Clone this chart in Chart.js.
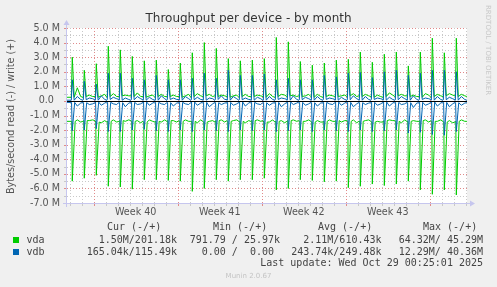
<!DOCTYPE html>
<html>
<head>
<meta charset="utf-8">
<script src="https://cdn.jsdelivr.net/npm/chart.js@4.4.1/dist/chart.umd.min.js"></script>
<style>
  html, body { margin: 0; background: #f0f0f0; }
  canvas { display: block; }
</style>
</head>
<body>
<canvas id="chart" width="497" height="287"></canvas>
<script>
// time axis is in days from the left edge of the graph
const spanDays = 33.33;
const firstMidnight = 0.225;
const firstMonday = 2.225;
const spikePhase = 0.44;

const weekLabels = ['Week 40', 'Week 41', 'Week 42', 'Week 43'];
const yTicks = [-7, -6, -5, -4, -3, -2, -1, 0, 1, 2, 3, 4, 5];

// daily values, MB/s (read is negative, write positive)
// peak = the daily burst, base = level around it, quiet = two readings later in the day
const vdaWritePeak = [3.0, 2.1, 2.55, 3.75, 3.5, 3.05, 2.75, 2.8, 2.15, 2.6, 3.3, 4.0, 3.6, 2.9, 2.75, 2.8, 2.9,
  4.35, 4.05, 2.7, 2.45, 2.6, 2.8, 2.85, 3.35, 2.65, 3.2, 3.35, 2.4, 3.35, 4.3, 3.3, 4.3];
const vdaWriteBase = [0.25, 0.3, 0.25, 0.3, 0.35, 0.3, 0.25, 0.3, 0.3, 0.25, 0.3, 0.35, 0.3, 0.25, 0.3, 0.3, 0.25,
  0.3, 0.35, 0.3, 0.25, 0.3, 0.3, 0.35, 0.3, 0.25, 0.3, 0.35, 0.3, 0.25, 0.3, 0.35, 0.3];
const vdaWriteQuiet = [
  0.9, 0.3,  0.4, 0.3,  0.35, 0.45, 0.5, 0.3,  0.4, 0.35, 0.55, 0.3,  0.35, 0.4,  0.45, 0.3,
  0.4, 0.3,  0.35, 0.45, 0.5, 0.35, 0.45, 0.3, 0.4, 0.35, 0.35, 0.4,  0.45, 0.3,  0.4, 0.35,
  0.5, 0.3,  0.45, 0.4,  0.4, 0.3,  0.35, 0.45, 0.45, 0.3, 0.4, 0.35, 0.35, 0.4,  0.5, 0.3,
  0.45, 0.35, 0.4, 0.3,  0.55, 0.4, 0.45, 0.35, 0.4, 0.3,  0.5, 0.4,  0.45, 0.35, 0.5, 0.4,
  0.45, 0.35];

const vdaReadPeak = [-5.5, -5.3, -5.1, -5.85, -5.9, -6.05, -5.4, -5.4, -5.45, -5.5, -6.2, -6.0, -5.4, -5.5, -5.4, -5.4, -5.3,
  -6.1, -6.0, -5.4, -5.45, -5.55, -5.5, -5.95, -5.85, -5.7, -5.8, -5.7, -5.5, -6.1, -6.4, -6.1, -6.45];
const vdaReadBase = [-1.4, -1.35, -1.45, -1.4, -1.35, -1.4, -1.45, -1.4, -1.35, -1.4, -1.4, -1.45, -1.35, -1.4, -1.4, -1.35, -1.45,
  -1.4, -1.35, -1.4, -1.45, -1.4, -1.35, -1.4, -1.4, -1.45, -1.35, -1.4, -1.4, -1.35, -1.4, -1.45, -1.4];
const vdaReadQuiet = [
  -1.3, -1.45, -1.35, -1.3,  -1.5, -1.35, -1.3, -1.45, -1.4, -1.3,  -1.35, -1.5, -1.3, -1.4,  -1.45, -1.3,
  -1.35, -1.45, -1.3, -1.4,  -1.5, -1.3,  -1.4, -1.35, -1.3, -1.45, -1.35, -1.3, -1.5, -1.35, -1.3, -1.4,
  -1.45, -1.3, -1.35, -1.5,  -1.3, -1.4,  -1.4, -1.3,  -1.35, -1.45, -1.3, -1.4, -1.45, -1.35, -1.3, -1.5,
  -1.35, -1.3, -1.4, -1.45,  -1.3, -1.35, -1.5, -1.3,  -1.35, -1.4,  -1.3, -1.45, -1.4, -1.3, -1.35, -1.5,
  -1.3, -1.4];

const vdbWritePeak = [1.45, 1.35, 1.15, 1.9, 1.9, 1.55, 1.45, 1.75, 1.45, 1.45, 1.55, 1.9, 1.55, 2.1, 1.75, 1.75, 1.85,
  1.45, 1.55, 1.45, 1.45, 1.75, 1.65, 1.9, 1.95, 1.6, 2.0, 2.1, 1.75, 1.9, 2.1, 2.1, 2.0];
const vdbWriteBase = [0.05, 0.08, 0.05, 0.1, 0.05, 0.08, 0.05, 0.05, 0.1, 0.05, 0.08, 0.05, 0.1, 0.05, 0.08, 0.05, 0.05,
  0.1, 0.05, 0.08, 0.05, 0.1, 0.05, 0.08, 0.05, 0.1, 0.05, 0.08, 0.05, 0.1, 0.05, 0.08, 0.05];
const vdbWriteQuiet = [
  0.3, 0.1,  0.2, 0.15, 0.35, 0.1,  0.25, 0.15, 0.2, 0.1,  0.3, 0.15, 0.25, 0.1,  0.35, 0.15,
  0.2, 0.1,  0.3, 0.15, 0.25, 0.1,  0.2, 0.15,  0.35, 0.1, 0.3, 0.15, 0.2, 0.1,   0.25, 0.15,
  0.3, 0.1,  0.2, 0.15, 0.35, 0.1,  0.25, 0.15, 0.3, 0.1,  0.2, 0.15, 0.25, 0.1,  0.35, 0.15,
  0.3, 0.1,  0.2, 0.15, 0.25, 0.1,  0.3, 0.15,  0.35, 0.1, 0.2, 0.15, 0.3, 0.1,   0.25, 0.15,
  0.3, 0.1];

const vdbReadPeak = [-2.05, -2.0, -1.9, -2.1, -2.1, -2.0, -1.95, -2.05, -2.1, -2.0, -2.1, -2.0, -2.05, -2.1, -2.0, -2.05, -2.0,
  -2.1, -2.05, -2.0, -2.1, -2.0, -2.05, -2.1, -2.0, -2.1, -2.05, -2.0, -2.2, -2.15, -2.3, -2.35, -2.1];
const vdbReadBase = [-0.1, -0.12, -0.08, -0.1, -0.12, -0.1, -0.08, -0.1, -0.12, -0.1, -0.08, -0.1, -0.12, -0.1, -0.08, -0.1, -0.12,
  -0.1, -0.08, -0.1, -0.12, -0.1, -0.08, -0.1, -0.12, -0.1, -0.08, -0.1, -0.12, -0.1, -0.08, -0.1, -0.12];
const vdbReadQuiet = [
  -0.35, -0.15, -0.25, -0.2, -0.3, -0.15, -0.2, -0.25, -0.4, -0.15, -0.25, -0.2, -0.3, -0.15, -0.2, -0.25,
  -0.35, -0.15, -0.2, -0.25, -0.3, -0.15, -0.4, -0.2, -0.25, -0.15, -0.3, -0.2,  -0.35, -0.15, -0.2, -0.25,
  -0.3, -0.15, -0.4, -0.2,  -0.25, -0.15, -0.3, -0.2, -0.35, -0.15, -0.2, -0.25, -0.3, -0.15, -0.4, -0.2,
  -0.25, -0.15, -0.3, -0.2, -0.35, -0.15, -0.25, -0.2, -0.45, -0.15, -0.3, -0.2, -0.35, -0.15, -0.4, -0.2,
  -0.3, -0.15];

const legendRows = [
  { name: 'vda', color: '#00cc00', cur: '1.50M/201.18k', min: '791.79 / 25.97k', avg: '2.11M/610.43k', max: '64.32M/ 45.29M' },
  { name: 'vdb', color: '#0066b3', cur: '165.04k/115.49k', min: '0.00 /  0.00', avg: '243.74k/249.48k', max: '12.29M/ 40.36M' }
];

function buildSeries(peak, base, quiet, fall, rise) {
  const pts = [{ x: 0, y: base[0] }];
  peak.forEach((p, k) => {
    const t = spikePhase + k;
    pts.push({ x: t - fall, y: base[k] }, { x: t, y: p }, { x: t + rise, y: base[k] },
      { x: t + 0.42, y: quiet[2 * k] }, { x: t + 0.7, y: quiet[2 * k + 1] }, { x: t + 0.88, y: base[k] });
  });
  return pts;
}

const sans = '"DejaVu Sans", sans-serif';
const mono = '"DejaVu Sans Mono", monospace';

function dotted(ctx, x1, y1, x2, y2, color) {
  ctx.save();
  ctx.strokeStyle = color;
  ctx.lineWidth = 1;
  ctx.setLineDash([1, 2]);
  ctx.beginPath();
  ctx.moveTo(x1, y1);
  ctx.lineTo(x2, y2);
  ctx.stroke();
  ctx.restore();
}

const munin = {
  id: 'munin',
  beforeDraw(chart) {
    const { ctx, chartArea: a } = chart;
    ctx.save();
    ctx.fillStyle = '#f0f0f0';
    ctx.fillRect(0, 0, chart.width, chart.height);
    ctx.fillStyle = '#ffffff';
    ctx.fillRect(a.left, a.top, a.right - a.left, a.bottom - a.top);
    ctx.restore();
  },
  beforeDatasetsDraw(chart) {
    const { ctx, chartArea: a, scales: { x, y } } = chart;
    const minor = '#c8c8c8', major = '#e08a8a';
    ctx.save();
    // horizontal grid: minor every 0.5, major every 1
    for (let v = -7; v <= 5; v += 0.5) {
      const py = Math.round(y.getPixelForValue(v)) + 0.5;
      const isMajor = Number.isInteger(v);
      dotted(ctx, a.left, py, a.right, py, isMajor ? major : minor);
      ctx.strokeStyle = isMajor ? major : minor;
      ctx.beginPath(); ctx.moveTo(a.left - 3, py); ctx.lineTo(a.left, py); ctx.stroke();
    }
    // vertical grid: minor every day, major every week
    for (let d = firstMidnight; d <= spanDays; d += 1) {
      const px = Math.round(x.getPixelForValue(d)) + 0.5;
      const isMajor = Math.abs(((d - firstMonday) % 7 + 7) % 7) < 0.01;
      dotted(ctx, px, a.top, px, a.bottom, isMajor ? major : minor);
      ctx.strokeStyle = isMajor ? major : minor;
      ctx.beginPath(); ctx.moveTo(px, a.bottom); ctx.lineTo(px, a.bottom + 3); ctx.stroke();
    }
    ctx.restore();
  },
  afterDatasetsDraw(chart) {
    const { ctx, chartArea: a, scales: { y } } = chart;
    ctx.save();
    const zy = Math.round(y.getPixelForValue(0)) + 0.5;
    ctx.strokeStyle = '#000000';
    ctx.lineWidth = 1;
    ctx.beginPath(); ctx.moveTo(a.left, zy); ctx.lineTo(a.right, zy); ctx.stroke();
    // axes with arrows
    const axis = '#c6c6ee';
    ctx.strokeStyle = axis;
    ctx.fillStyle = axis;
    ctx.beginPath();
    ctx.moveTo(a.left - 0.5, a.bottom + 4); ctx.lineTo(a.left - 0.5, a.top - 4);
    ctx.moveTo(a.left - 4, a.bottom + 0.5); ctx.lineTo(a.right + 4, a.bottom + 0.5);
    ctx.stroke();
    ctx.beginPath();
    ctx.moveTo(a.left - 3.5, a.top - 3); ctx.lineTo(a.left - 0.5, a.top - 8); ctx.lineTo(a.left + 2.5, a.top - 3);
    ctx.closePath(); ctx.fill();
    ctx.beginPath();
    ctx.moveTo(a.right + 3, a.bottom - 2.5); ctx.lineTo(a.right + 8, a.bottom + 0.5); ctx.lineTo(a.right + 3, a.bottom + 3.5);
    ctx.closePath(); ctx.fill();
    ctx.restore();
  },
  afterDraw(chart) {
    const { ctx } = chart;
    ctx.save();
    ctx.textBaseline = 'middle';
    ctx.fillStyle = '#333333';
    ctx.font = '12px ' + sans;
    ctx.textAlign = 'center';
    ctx.fillText('Throughput per device - by month', 248.5, 19);

    ctx.save();
    ctx.translate(11, 116.5);
    ctx.rotate(-Math.PI / 2);
    ctx.fillStyle = '#555555';
    ctx.font = '9.6px ' + sans;
    ctx.fillText('Bytes/second read (-) / write (+)', 0, 0);
    ctx.restore();

    ctx.save();
    ctx.translate(488, 5);
    ctx.rotate(Math.PI / 2);
    ctx.textAlign = 'left';
    ctx.fillStyle = '#c8c8c8';
    ctx.font = '7px ' + sans;
    ctx.fillText('RRDTOOL / TOBI OETIKER', 0, 0);
    ctx.restore();

    ctx.textAlign = 'left';
    ctx.font = '10px ' + mono;
    ctx.fillStyle = '#444444';
    ctx.fillText('Cur (-/+)', 107, 227.5);
    ctx.fillText('Min (-/+)', 213, 227.5);
    ctx.fillText('Avg (-/+)', 318, 227.5);
    ctx.fillText('Max (-/+)', 423, 227.5);
    legendRows.forEach((r, i) => {
      const ry = 240 + i * 12;
      ctx.fillStyle = r.color;
      ctx.fillRect(13, ry - 3, 6, 6);
      ctx.fillStyle = '#444444';
      ctx.fillText(r.name, 26.5, ry);
      ctx.textAlign = 'right';
      ctx.fillText(r.cur, 177, ry);
      ctx.fillText(r.min + (r.min.endsWith('k') ? '' : ' '), 280, ry);
      ctx.fillText(r.avg, 381.5, ry);
      ctx.fillText(r.max, 483, ry);
      ctx.textAlign = 'left';
    });
    ctx.textAlign = 'right';
    ctx.fillText('Last update: Wed Oct 29 00:25:01 2025', 483, 263.5);
    ctx.textAlign = 'center';
    ctx.fillStyle = '#c4c4c4';
    ctx.font = '7px ' + sans;
    ctx.fillText('Munin 2.0.67', 248.5, 276);
    ctx.restore();
  }
};

const weekCenters = weekLabels.map((_, j) => firstMonday + 3.5 + 7 * j);

new Chart(document.getElementById('chart'), {
  type: 'line',
  data: {
    datasets: [
      { label: 'vdb write', data: buildSeries(vdbWritePeak, vdbWriteBase, vdbWriteQuiet, 0.08, 0.16), borderColor: '#0066b3' },
      { label: 'vdb read', data: buildSeries(vdbReadPeak, vdbReadBase, vdbReadQuiet, 0.06, 0.2), borderColor: '#0066b3' },
      { label: 'vda write', data: buildSeries(vdaWritePeak, vdaWriteBase, vdaWriteQuiet, 0.08, 0.16), borderColor: '#00cc00' },
      { label: 'vda read', data: buildSeries(vdaReadPeak, vdaReadBase, vdaReadQuiet, 0.04, 0.24), borderColor: '#00cc00' }
    ]
  },
  options: {
    responsive: false,
    animation: false,
    layout: { padding: { top: 28, right: 30, left: 0, bottom: 0 } },
    elements: {
      point: { radius: 0 },
      line: { borderWidth: 1, tension: 0 }
    },
    plugins: { legend: { display: false }, tooltip: { enabled: false }, title: { display: false } },
    scales: {
      x: {
        type: 'linear',
        min: 0,
        max: spanDays,
        grid: { display: false, drawTicks: false },
        border: { display: false },
        afterFit: s => { s.height = 84; },
        afterBuildTicks: s => { s.ticks = weekCenters.map(v => ({ value: v })); },
        ticks: {
          autoSkip: false,
          maxRotation: 0,
          padding: 4,
          color: '#555555',
          font: { family: 'DejaVu Sans', size: 9.6 },
          callback: (v, i) => weekLabels[i]
        }
      },
      y: {
        min: -7,
        max: 5,
        grid: { display: false, drawTicks: false },
        border: { display: false },
        afterFit: s => { s.width = 67; },
        afterBuildTicks: s => { s.ticks = yTicks.map(v => ({ value: v })); },
        ticks: {
          padding: 7,
          color: '#555555',
          font: { family: 'DejaVu Sans', size: 9.6 },
          callback: v => v === 0 ? '0.0  ' : v.toFixed(1) + ' M'
        }
      }
    }
  },
  plugins: [munin]
});
</script>
</body>
</html>
